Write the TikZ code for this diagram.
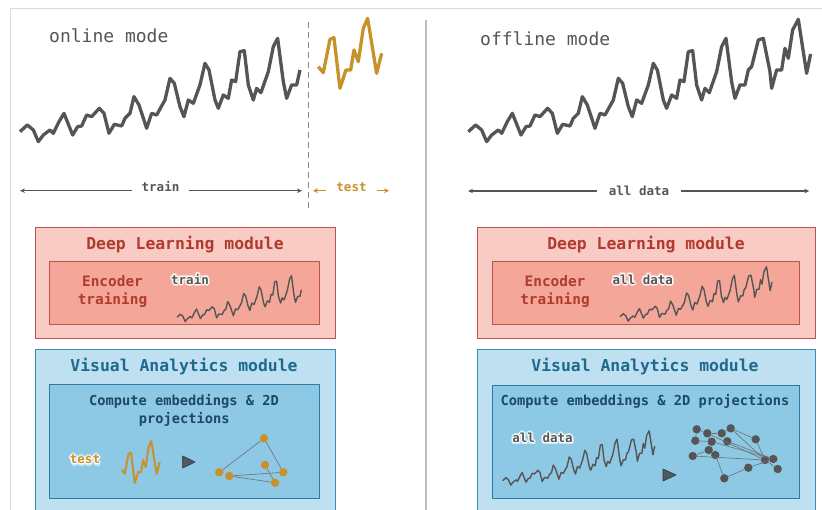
\documentclass[tikz,border=0pt]{standalone}
\usepackage{fontspec}
\setmonofont{DejaVu Sans Mono}
\usetikzlibrary{arrows.meta}
\definecolor{serg}{HTML}{555555}
\definecolor{ora}{HTML}{C8922A}
\definecolor{dlout}{HTML}{F8CBC4}
\definecolor{dlin}{HTML}{F4A798}
\definecolor{dledge}{HTML}{C0504D}
\definecolor{dltxt}{HTML}{B03A2E}
\definecolor{vaout}{HTML}{BEE0F0}
\definecolor{vain}{HTML}{8DC8E4}
\definecolor{vaedge}{HTML}{3A8BB5}
\definecolor{vaedgein}{HTML}{2C7BA5}
\definecolor{vatxt}{HTML}{1E6A8E}
\definecolor{vatxtb}{HTML}{1B4A62}
\definecolor{framec}{HTML}{DADADA}
\definecolor{divc}{HTML}{BDBDBD}
\definecolor{dashc}{HTML}{8A8A8A}
\definecolor{trif}{HTML}{4F5B61}
\definecolor{edgec}{HTML}{707070}

\newcommand\hc[3]{\makebox[0pt][l]{\hspace*{#1}\raisebox{#2}{#3}}}
\newcommand\glowtext[3]{%
  {\color{#1}\hc{2pt}{0pt}{#3}\hc{-2pt}{0pt}{#3}\hc{0pt}{2pt}{#3}\hc{0pt}{-2pt}{#3}\hc{1.4pt}{1.4pt}{#3}\hc{-1.4pt}{1.4pt}{#3}\hc{1.4pt}{-1.4pt}{#3}\hc{-1.4pt}{-1.4pt}{#3}}%
  {\color{white}\hc{1pt}{0pt}{#3}\hc{-1pt}{0pt}{#3}\hc{0pt}{1pt}{#3}\hc{0pt}{-1pt}{#3}\hc{.7pt}{.7pt}{#3}\hc{-.7pt}{.7pt}{#3}\hc{.7pt}{-.7pt}{#3}\hc{-.7pt}{-.7pt}{#3}}%
  {\color{#2}#3}}

\def\trainpts{(145,395) -- (167,375) -- (185,390) -- (200,425) -- (215,405) -- (235,390) -- (245,400) -- (262,365) -- (277,340) -- (303,405) -- (318,380) -- (330,378) -- (345,345) -- (360,350) -- (383,325) -- (397,340) -- (412,400) -- (428,373) -- (450,378) -- (460,355) -- (475,340) -- (487,290) -- (502,315) -- (525,385) -- (540,340) -- (555,345) -- (580,300) -- (595,235) -- (608,250) -- (625,320) -- (637,350) -- (650,300) -- (665,310) -- (685,255) -- (700,190) -- (712,210) -- (730,300) -- (740,325) -- (755,285) -- (770,295) -- (780,240) -- (792,245) -- (805,155) -- (818,152) -- (830,255) -- (845,300) -- (855,265) -- (868,278) -- (890,215) -- (905,140) -- (918,115) -- (935,245) -- (945,295) -- (960,255) -- (975,255) -- (985,210)}
\def\tailpts{-- (995,200) -- (1015,120) -- (1030,115) -- (1050,215) -- (1055,265) -- (1070,210) -- (1085,210) -- (1095,145) -- (1105,175) -- (1118,90) -- (1135,58) -- (1160,220) -- (1172,162)}
\def\testpts{(955,200) -- (970,218) -- (990,118) -- (1002,113) -- (1020,265) -- (1038,210) -- (1052,210) -- (1062,150) -- (1075,185) -- (1090,85) -- (1103,55) -- (1130,220) -- (1145,160)}

\begin{document}
\begin{tikzpicture}[x=1pt,y=-1pt,
  txt/.style={inner sep=0pt, font=\ttfamily},
  bigser/.style={draw=serg, line width=3.3pt, line join=round},
  bigora/.style={draw=ora, line width=3.3pt, line join=round},
  smallser/.style={draw=serg, line width=1.4pt, line join=round},
  smallora/.style={draw=ora, line width=2pt, line join=round},
  dlbox/.style={draw=dledge, fill=dlout, line width=1pt, inner sep=0pt, anchor=north west},
  dlinbox/.style={draw=dledge, fill=dlin, line width=1pt, inner sep=0pt, anchor=north west},
  vabox/.style={draw=vaedge, fill=vaout, line width=1pt, inner sep=0pt, anchor=north west},
  vainbox/.style={draw=vaedgein, fill=vain, line width=1pt, inner sep=0pt, anchor=north west},
  modetxt/.style={txt, text=serg, anchor=base west, font=\ttfamily\fontsize{18}{20}\selectfont},
  dltitle/.style={txt, text=dltxt, anchor=base, font=\ttfamily\bfseries\fontsize{16.4}{18}\selectfont},
  vatitle/.style={txt, text=vatxt, anchor=base, font=\ttfamily\bfseries\fontsize{16.4}{18}\selectfont},
  enctxt/.style={txt, text=dltxt, anchor=base, font=\ttfamily\bfseries\fontsize{14.4}{16}\selectfont},
  comptxt/.style={txt, text=vatxtb, anchor=base, font=\ttfamily\bfseries\fontsize{13.7}{15}\selectfont},
  lbl/.style={txt, anchor=base, font=\ttfamily\bfseries\fontsize{12.5}{14}\selectfont},
  arr/.style={draw=serg, line width=1.2pt, -{Stealth[length=5pt,width=4.5pt]}},
  oarr/.style={draw=ora, line width=1.5pt, -{Stealth[length=5pt,width=5pt]}},
  odot/.style={circle, fill=ora, inner sep=0pt, minimum size=8.4pt},
  gdot/.style={circle, fill=serg, inner sep=0pt, minimum size=8.4pt},
  gedge/.style={draw=edgec, line width=0.6pt},
  tri/.style={fill=trif, draw=black!80, line width=0.6pt, line join=round}
]
\useasboundingbox (0,0) rectangle (822,510);
\clip (0,0) rectangle (822,510);

% frame
\draw[framec, line width=1pt] (822,9) -- (10,9) -- (10,510);
\draw[divc, line width=1.5pt] (426,20) -- (426,510);

% mode titles
\node[modetxt] (onl) at (49,42.3) {online mode};
\node[modetxt] (offl) at (480,45.7) {offline mode};

% big series
\begin{scope}[shift={(-28.33,0)}, scale=0.3333]
  \draw[bigser] \trainpts;
\end{scope}
\begin{scope}[scale=0.3333]
  \draw[bigora] \testpts;
\end{scope}
\begin{scope}[shift={(420,0)}, scale=0.3333]
  \draw[bigser] \trainpts \tailpts;
\end{scope}

% split line
\draw[dashc, line width=1.2pt, dash pattern=on 6pt off 4pt] (308.7,22) -- (308.7,210);

% range arrows
\node[lbl, text=serg, inner xsep=9.5pt] (trainlbl) at (160.5,191.7) {train};
\coordinate (trA) at (20,190.7);
\coordinate (trB) at (302,190.7);
\draw[arr] (trA -| trainlbl.west) -- (trA);
\draw[arr] (trA -| trainlbl.east) -- (trB);

\node[lbl, text=ora, inner xsep=10.5pt] (testlbl) at (351.5,191.7) {test};
\coordinate (tsA) at (313,190.7);
\coordinate (tsB) at (389,190.7);
\draw[oarr] (tsA -| testlbl.west) -- (tsA);
\draw[oarr] (tsA -| testlbl.east) -- (tsB);

\node[lbl, text=serg, inner xsep=12pt] (alllbl) at (639,195.5) {all data};
\coordinate (adA) at (468,191);
\coordinate (adB) at (809.3,191);
\draw[arr] (adA -| alllbl.west) -- (adA);
\draw[arr] (adA -| alllbl.east) -- (adB);

% Deep learning boxes
\node[dlbox, minimum width=300pt, minimum height=111pt] (dlL) at (35,227) {};
\node[dlinbox, minimum width=270pt, minimum height=63pt] (dlLin) at (49,261) {};
\node[dlbox, minimum width=338pt, minimum height=111pt] (dlR) at (477,227) {};
\node[dlinbox, minimum width=307pt, minimum height=63pt] (dlRin) at (492,261) {};

\node[dltitle] (dlLt) at (185,250) {Deep Learning module};
\node[dltitle] (dlRt) at (646,250) {Deep Learning module};

\node[enctxt] (encL1) at (112.5,286.7) {Encoder};
\node[enctxt] (encL2) at (112.5,305) {training};
\node[enctxt] (encR1) at (555,286.7) {Encoder};
\node[enctxt] (encR2) at (555,305) {training};

\node[lbl] (dlLlbl) at (190,284.3) {\glowtext{white!55!dlin}{serg}{train}};
\node[lbl] (dlRlbl) at (642.8,284.3) {\glowtext{white!55!dlin}{serg}{all data}};

\begin{scope}[shift={(155.6,258.7)}, scale=0.148]
  \draw[smallser] \trainpts;
\end{scope}
\begin{scope}[shift={(598.5,258.2)}, scale=0.148]
  \draw[smallser] \trainpts \tailpts;
\end{scope}

% Visual analytics boxes
\node[vabox, minimum width=300pt, minimum height=180pt] (vaL) at (35,349) {};
\node[vainbox, minimum width=270pt, minimum height=114pt] (vaLin) at (49,384) {};
\node[vabox, minimum width=338pt, minimum height=180pt] (vaR) at (477,349) {};
\node[vainbox, minimum width=307pt, minimum height=113pt] (vaRin) at (492,385) {};

\node[vatitle] (vaLt) at (184,371.7) {Visual Analytics module};
\node[vatitle] (vaRt) at (645,371.7) {Visual Analytics module};

\node[comptxt] (cmpL1) at (184,405.7) {Compute embeddings \& 2D};
\node[comptxt] (cmpL2) at (184.3,423.3) {projections};
\node[comptxt] (cmpR) at (645,405.7) {Compute embeddings \& 2D projections};

\node[lbl] (vaLlbl) at (85,464) {\glowtext{white!55!vain}{ora}{test}};
\node[lbl] (vaRlbl) at (542.5,442.7) {\glowtext{white!55!vain}{serg}{all data}};

\begin{scope}[shift={(-69.3,430)}, scale=0.2]
  \draw[smallora] \testpts;
\end{scope}
\begin{scope}[shift={(481.2,422.2)}, scale=0.148]
  \draw[smallser] \trainpts \tailpts;
\end{scope}

% play triangles
\draw[tri] (182.7,456) -- (182.7,468) -- (195,462) -- cycle;
\draw[tri] (663,469) -- (663,481) -- (676,475) -- cycle;

% left projection graph
\node[odot] (pa) at (264,438.3) {};
\node[odot] (pb) at (219.3,472.3) {};
\node[odot] (pc) at (229.3,476) {};
\node[odot] (pd) at (265,465) {};
\node[odot] (pe) at (283.3,472.3) {};
\node[odot] (pf) at (275,482.7) {};
\begin{scope}[on background layer/.style={}]
\end{scope}
\draw[gedge] (pb) -- (pa);
\draw[gedge] (pa) -- (pe);
\draw[gedge] (pc) -- (pe);
\draw[gedge] (pc) -- (pf);
\draw[gedge] (pd) -- (pf);

% right projection graph
\node[gdot] (n1) at (696.7,429.3) {};
\node[gdot] (n2) at (707.3,433.3) {};
\node[gdot] (n3) at (721.7,433.3) {};
\node[gdot] (n4) at (730.7,428.3) {};
\node[gdot] (n5) at (695.3,440.7) {};
\node[gdot] (n6) at (711.7,441.7) {};
\node[gdot] (n7) at (727.3,441.3) {};
\node[gdot] (n8) at (755.7,439.3) {};
\node[gdot] (n9) at (708.7,450) {};
\node[gdot] (n10) at (715.3,455) {};
\node[gdot] (n11) at (692.7,456) {};
\node[gdot] (n12) at (765,460) {};
\node[gdot] (n13) at (773.3,459) {};
\node[gdot] (n14) at (748.3,467.7) {};
\node[gdot] (n15) at (777.7,469) {};
\node[gdot] (n16) at (724.3,478.3) {};
\foreach \a/\b in {n1/n2, n2/n3, n3/n4, n1/n5, n5/n6, n2/n6, n6/n9, n9/n10, n11/n12, n4/n8, n4/n12, n8/n12, n2/n12, n6/n13, n7/n13, n10/n16, n16/n14, n14/n13, n12/n15, n12/n13, n9/n11}
  \draw[gedge] (\a) -- (\b);
\end{tikzpicture}
\end{document}
